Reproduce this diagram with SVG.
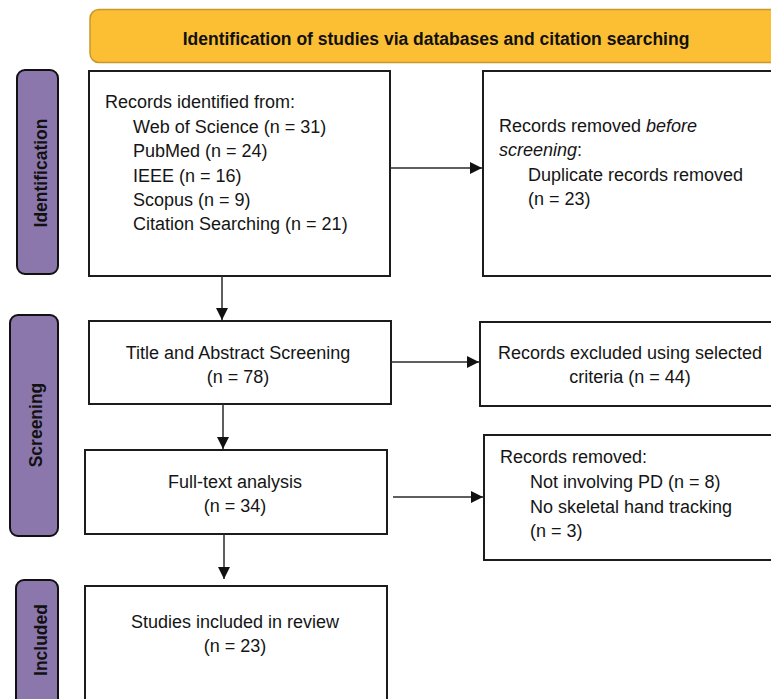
<svg xmlns="http://www.w3.org/2000/svg" width="771" height="699" viewBox="0 0 771 699">
<style>
.t{font-family:"Liberation Sans",Arial,sans-serif;font-size:18px;fill:#151515}
.c{text-anchor:middle}
.b{font-family:"Liberation Sans",Arial,sans-serif;font-size:17.5px;font-weight:bold;fill:#111}
.box{fill:#fff;stroke:#1c1c1c;stroke-width:2}
.phase{fill:#8C77AD;stroke:#111;stroke-width:2}
.ln{stroke:#2a2a2a;stroke-width:1.5;fill:none}
</style>
<defs>
<marker id="ah" markerUnits="userSpaceOnUse" markerWidth="12" markerHeight="12" refX="12" refY="6" orient="auto">
<path d="M0,0 L12,6 L0,12 z" fill="#111"/>
</marker>
</defs>
<g id="banner">
<rect x="90" y="9.5" width="700" height="53" rx="9" fill="#FCBF33" stroke="#C8982E" stroke-width="1.5"/>
<text class="b c" x="436" y="45">Identification of studies via databases and citation searching</text>
</g>
<g id="phase-identification">
<rect class="phase" x="17" y="70" width="41" height="204" rx="8"/>
<text class="b c" transform="translate(47,173) rotate(-90)">Identification</text>
</g>
<g id="phase-screening">
<rect class="phase" x="10" y="315" width="48" height="221" rx="8"/>
<text class="b c" transform="translate(42,425) rotate(-90)">Screening</text>
</g>
<g id="phase-included">
<rect class="phase" x="16" y="580" width="42" height="135" rx="8"/>
<text class="b c" transform="translate(47,640) rotate(-90)">Included</text>
</g>
<g id="records-identified">
<rect class="box" x="89" y="71" width="301" height="205"/>
<text class="t" x="105" y="108">Records identified from:</text>
<text class="t" x="133" y="133">Web of Science (n = 31)</text>
<text class="t" x="133" y="157">PubMed (n = 24)</text>
<text class="t" x="133" y="182">IEEE (n = 16)</text>
<text class="t" x="133" y="206">Scopus (n = 9)</text>
<text class="t" x="133" y="230">Citation Searching (n = 21)</text>
</g>
<g id="records-removed-before">
<rect class="box" x="483" y="71" width="300" height="205"/>
<text class="t" x="499" y="132">Records removed <tspan font-style="italic">before</tspan></text>
<text class="t" x="499" y="156"><tspan font-style="italic">screening</tspan>:</text>
<text class="t" x="528" y="181">Duplicate records removed</text>
<text class="t" x="528" y="205">(n = 23)</text>
</g>
<g id="title-abstract">
<rect class="box" x="89" y="321" width="302" height="83"/>
<text class="t c" x="238" y="359">Title and Abstract Screening</text>
<text class="t c" x="238" y="383">(n = 78)</text>
</g>
<g id="records-excluded">
<rect class="box" x="480" y="322" width="300" height="84"/>
<text class="t c" x="630" y="359">Records excluded using selected</text>
<text class="t c" x="630" y="383">criteria (n = 44)</text>
</g>
<g id="full-text">
<rect class="box" x="85" y="450" width="302" height="84"/>
<text class="t c" x="235" y="488">Full-text analysis</text>
<text class="t c" x="235" y="512">(n = 34)</text>
</g>
<g id="records-removed">
<rect class="box" x="484" y="435" width="300" height="125"/>
<text class="t" x="500" y="463">Records removed:</text>
<text class="t" x="530" y="488">Not involving PD (n = 8)</text>
<text class="t" x="530" y="513">No skeletal hand tracking</text>
<text class="t" x="530" y="537">(n = 3)</text>
</g>
<g id="included">
<rect class="box" x="85" y="586" width="302" height="130"/>
<text class="t c" x="235" y="628">Studies included in review</text>
<text class="t c" x="235" y="652">(n = 23)</text>
</g>
<g id="connectors">
<line class="ln" x1="390" y1="168" x2="482" y2="168" marker-end="url(#ah)"/>
<line class="ln" x1="222" y1="276" x2="222" y2="320" marker-end="url(#ah)"/>
<line class="ln" x1="391" y1="362" x2="479" y2="362" marker-end="url(#ah)"/>
<line class="ln" x1="223" y1="404" x2="223" y2="449" marker-end="url(#ah)"/>
<line class="ln" x1="393" y1="497" x2="483" y2="497" marker-end="url(#ah)"/>
<line class="ln" x1="224" y1="534" x2="224" y2="579" marker-end="url(#ah)"/>
</g>
</svg>
